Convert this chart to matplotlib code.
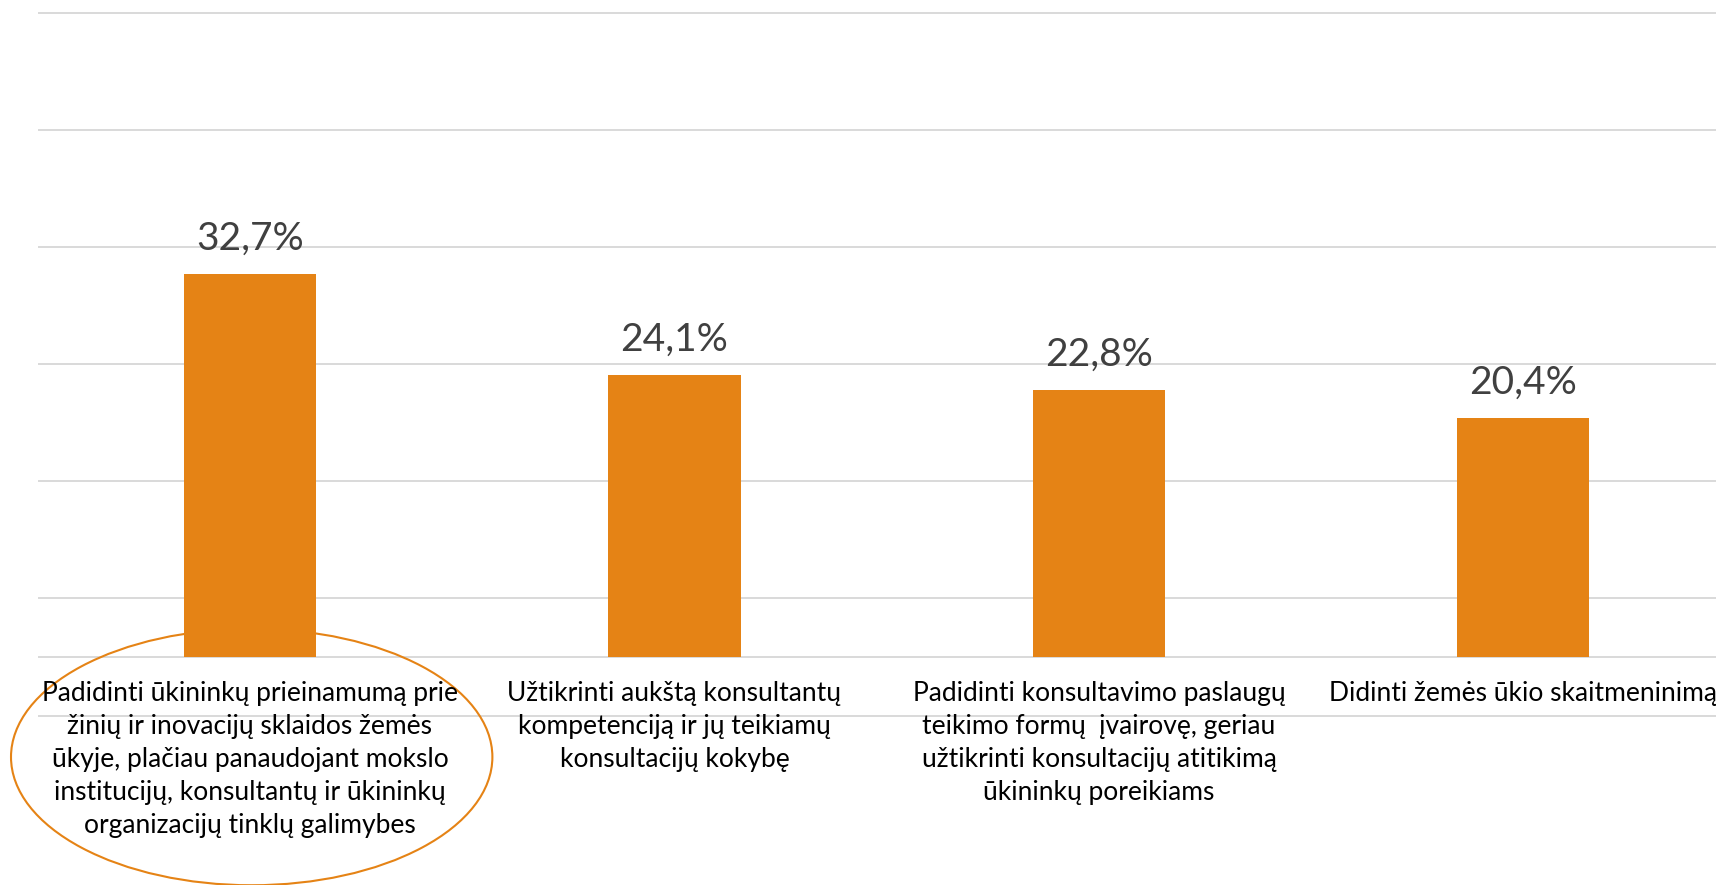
import matplotlib
matplotlib.use("Agg")
import matplotlib.pyplot as plt
from matplotlib.patches import Ellipse

# data
categories = [
    "Padidinti ūkininkų prieinamumą prie\nžinių ir inovacijų sklaidos žemės\nūkyje, plačiau panaudojant mokslo\ninstitucijų, konsultantų ir ūkininkų\norganizacijų tinklų galimybes",
    "Užtikrinti aukštą konsultantų\nkompetenciją ir jų teikiamų\nkonsultacijų kokybę",
    "Padidinti konsultavimo paslaugų\nteikimo formų  įvairovę, geriau\nužtikrinti konsultacijų atitikimą\nūkininkų poreikiams",
    "Didinti žemės ūkio skaitmeninimą",
]
values = [32.7, 24.1, 22.8, 20.4]
value_labels = ["32,7%", "24,1%", "22,8%", "20,4%"]
grid_levels = [-5, 0, 5, 15, 25, 35, 45, 55]

plt.rcParams['font.family'] = ['Lato', 'DejaVu Sans']

BAR = '#E58315'
GRID = '#D9D9D9'

fig = plt.figure(figsize=(17.16, 8.85), dpi=100)
ax = fig.add_axes([38 / 1716, 0, 1 - 38 / 1716, 1])
ax.set_xlim(-0.4994, 3.4535)
ax.set_ylim(-19.47, 56.1)
ax.axis('off')

for g in grid_levels:
    ax.axhline(g, color=GRID, lw=1.4, zorder=1)

x = range(len(values))
ax.bar(x, values, width=0.311, color=BAR, zorder=3)

for xi, v, lab in zip(x, values, value_labels):
    ax.text(xi, v + 3.0, lab, ha='center', va='center', fontsize=28,
            color='#404040', zorder=4)

for xi, cat in zip(x, categories):
    ax.text(xi, -2.05, cat, ha='center', va='top', fontsize=19,
            color='#000000', linespacing=1.4, zorder=4, clip_on=False)

# highlight ellipse around the first category
ax.add_patch(Ellipse((0.004, -8.54), 1.134, 21.9, fill=False,
                     edgecolor=BAR, lw=1.5, zorder=2, clip_on=False))

fig.savefig('out.png', dpi=100)
